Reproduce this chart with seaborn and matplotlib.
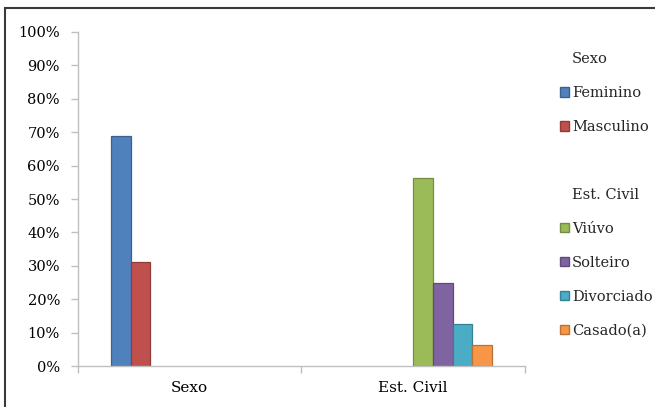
import matplotlib
matplotlib.use("Agg")
import matplotlib.pyplot as plt
from matplotlib.patches import Patch, Rectangle
from matplotlib.ticker import FuncFormatter, MultipleLocator, FixedLocator
import matplotlib.colors as mcolors
import seaborn as sns
import pandas as pd

# Perfil da amostra (n = 16)
groups = ["Sexo", "Est. Civil"]
sexo_labels = ["Feminino", "Masculino"]
sexo_values = [68.75, 31.25]
civil_labels = ["Viúvo", "Solteiro", "Divorciado", "Casado(a)"]
civil_values = [56.25, 25.0, 12.5, 6.25]
sexo_colors = ["#4F81BD", "#C0504D"]
civil_colors = ["#9BBB59", "#8064A2", "#4BACC6", "#F79646"]

rows = [("Sexo", s, v) for s, v in zip(sexo_labels, sexo_values)]
rows += [("Est. Civil", s, v) for s, v in zip(civil_labels, civil_values)]
df = pd.DataFrame(rows, columns=["grupo", "serie", "valor"])

# two empty slots keep the blocks apart inside each group
spacers = [" ", "  "]
hue_order = sexo_labels + spacers + civil_labels
palette = dict(zip(sexo_labels, sexo_colors))
palette.update({s: "#FFFFFF" for s in spacers})
palette.update(dict(zip(civil_labels, civil_colors)))


def darker(col, k=0.75):
    return tuple(c * k for c in mcolors.to_rgb(col))


sns.set_theme(style="white")
plt.rcParams["font.family"] = ["DejaVu Serif"]
plt.rcParams["font.size"] = 10.5

fig = plt.figure(figsize=(6.55, 4.07), dpi=100)
ax = fig.add_axes([0.119, 0.1007, 0.6825, 0.8207])

sns.barplot(data=df, x="grupo", y="valor", hue="serie", order=groups,
            hue_order=hue_order, palette=palette, width=0.705, dodge=True,
            errorbar=None, legend=False, saturation=1, ax=ax)

for p in ax.patches:
    p.set_edgecolor(darker(p.get_facecolor()))
    p.set_linewidth(0.9)

ax.set_ylim(0, 100)
ax.set_xlim(-0.5, 1.5)
ax.yaxis.set_major_locator(MultipleLocator(10))
ax.yaxis.set_major_formatter(FuncFormatter(lambda v, _: f"{v:.0f}%"))
ax.set_xlabel("")
ax.set_ylabel("")

grey = "#BFBFBF"
for side in ("top", "right"):
    ax.spines[side].set_visible(False)
for side in ("left", "bottom"):
    ax.spines[side].set_color(grey)
    ax.spines[side].set_linewidth(1.0)

ax.tick_params(axis="y", which="major", direction="out", length=5,
               width=1, color=grey, pad=8, labelsize=10.5, labelcolor="#000000",
               left=True)
# category separators on the x axis
ax.xaxis.set_minor_locator(FixedLocator([-0.5, 0.5, 1.5]))
ax.tick_params(axis="x", which="minor", direction="out", length=5,
               width=1, color=grey, bottom=True)
ax.tick_params(axis="x", which="major", length=0, pad=11, labelsize=11,
               labelcolor="#000000")

# legend with group headings
blank = Patch(facecolor="none", edgecolor="none")
handles = [blank]
labels = ["Sexo"]
for name, col in zip(sexo_labels, sexo_colors):
    handles.append(Patch(facecolor=col, edgecolor=darker(col)))
    labels.append(name)
handles.append(blank)
labels.append("")
handles.append(blank)
labels.append("Est. Civil")
for name, col in zip(civil_labels, civil_colors):
    handles.append(Patch(facecolor=col, edgecolor=darker(col)))
    labels.append(name)

fig.legend(handles, labels, loc="upper left",
           bbox_to_anchor=(560 / 655, 1 - 52 / 407),
           frameon=False, borderpad=0, borderaxespad=0,
           handlelength=0.62, handleheight=0.62, handletextpad=0.2,
           labelspacing=1.37, fontsize=10.5)

# outer frame of the chart area
fig.patches.append(Rectangle((5 / 655, -0.05), 1.0, 1 - 8 / 407 + 0.05,
                             transform=fig.transFigure, fill=False,
                             edgecolor="#3A3A3A", linewidth=1.5))

fig.savefig("out.png", dpi=100)
